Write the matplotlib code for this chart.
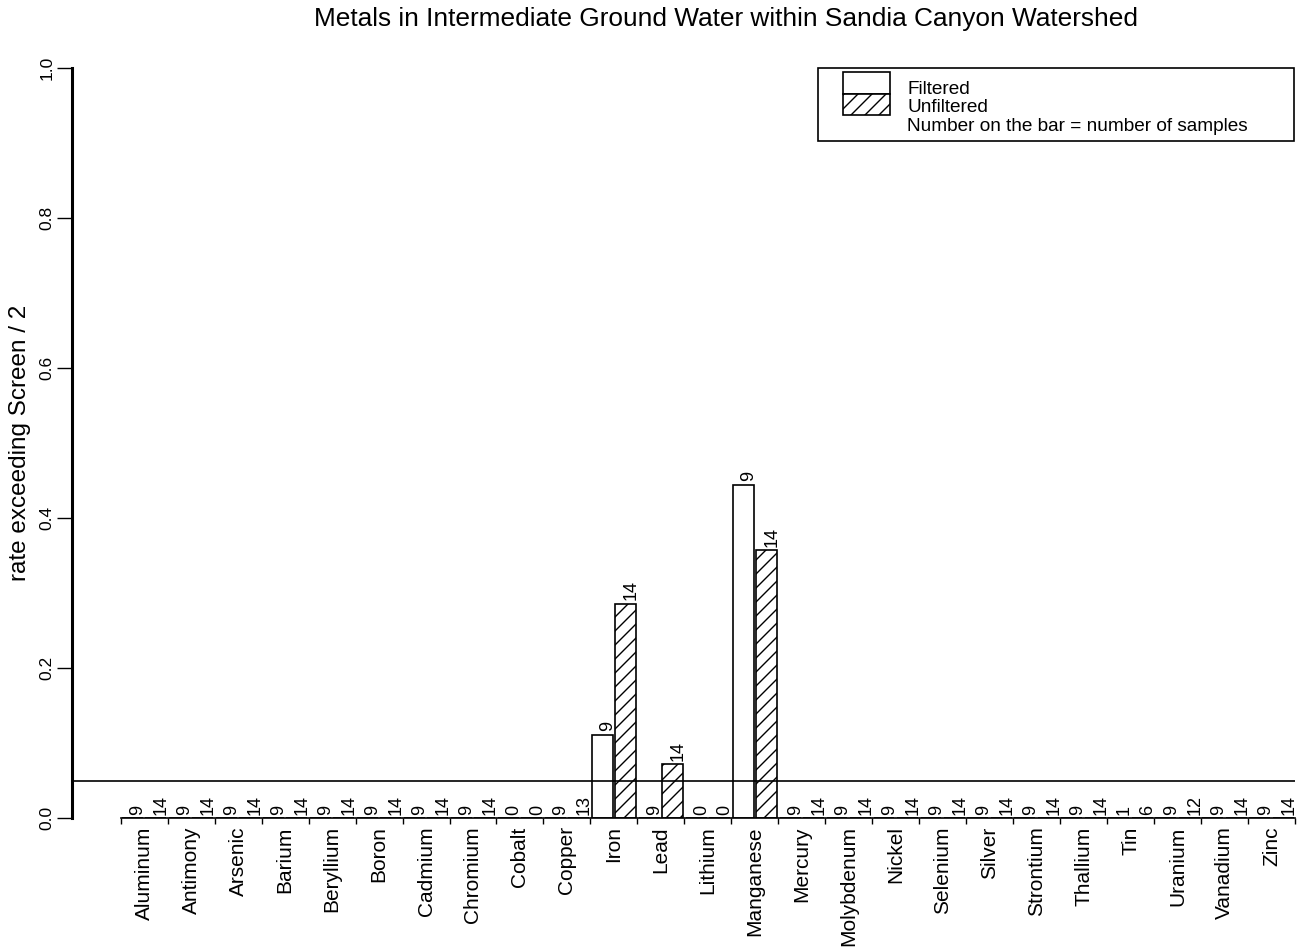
import matplotlib
matplotlib.use("Agg")
import matplotlib.pyplot as plt
from matplotlib.patches import Rectangle
import numpy as np

plt.rcParams['font.family'] = ['Liberation Sans', 'DejaVu Sans']

metals = ["Aluminum", "Antimony", "Arsenic", "Barium", "Beryllium", "Boron",
          "Cadmium", "Chromium", "Cobalt", "Copper", "Iron", "Lead", "Lithium",
          "Manganese", "Mercury", "Molybdenum", "Nickel", "Selenium", "Silver",
          "Strontium", "Thallium", "Tin", "Uranium", "Vanadium", "Zinc"]

# rate exceeding screen / 2
rate_filtered = [0, 0, 0, 0, 0, 0, 0, 0, 0, 0, 1/9, 0, 0, 4/9,
                 0, 0, 0, 0, 0, 0, 0, 0, 0, 0, 0]
rate_unfiltered = [0, 0, 0, 0, 0, 0, 0, 0, 0, 0, 4/14, 1/14, 0, 5/14,
                   0, 0, 0, 0, 0, 0, 0, 0, 0, 0, 0]

# number of samples
n_filtered = [9, 9, 9, 9, 9, 9, 9, 9, 0, 9, 9, 9, 0, 9,
              9, 9, 9, 9, 9, 9, 9, 1, 9, 9, 9]
n_unfiltered = [14, 14, 14, 14, 14, 14, 14, 14, 0, 13, 14, 14, 0, 14,
                14, 14, 14, 14, 14, 14, 14, 6, 12, 14, 14]

screen_line = 0.05
yticks = [0.0, 0.2, 0.4, 0.6, 0.8, 1.0]

# dpi picked so that the hatch spacing comes out like the original
DPI = 84
W, H = 1310, 951


def pt(v):
    # sizes given as if dpi were 100
    return v * 100 / DPI


fig = plt.figure(figsize=(W / DPI, H / DPI), dpi=DPI)
ax = fig.add_axes([72 / W, (H - 818) / H, (1295 - 72) / W, 750 / H])

ng = len(metals)
xf = np.arange(ng) * 2
xu = xf + 1
bw = 0.89

plt.rcParams['hatch.linewidth'] = pt(1.0)
ax.bar(xf, rate_filtered, width=bw, facecolor='white', edgecolor='black',
       linewidth=pt(1.2), zorder=2)
ax.bar(xu, rate_unfiltered, width=bw, facecolor='white', edgecolor='black',
       linewidth=pt(1.2), hatch='//', zorder=2)

for xs, vals, ns in [(xf, rate_filtered, n_filtered), (xu, rate_unfiltered, n_unfiltered)]:
    for x, v, n in zip(xs, vals, ns):
        ax.annotate(str(n), (x, v), xytext=(pt(4), pt(2.5)), textcoords='offset points',
                    rotation=90, ha='center', va='bottom', fontsize=pt(13))

ax.axhline(screen_line, color='black', linewidth=pt(1.2), zorder=3)

ax.set_xlim(-2.574, 49.468)
ax.set_ylim(0, 1)

for s in ['top', 'right']:
    ax.spines[s].set_visible(False)
ax.spines['left'].set_bounds(0, 1)
ax.spines['left'].set_linewidth(pt(2.2))
ax.spines['bottom'].set_bounds(-0.5, 2 * ng - 0.5)
ax.spines['bottom'].set_linewidth(pt(1.2))

ax.set_yticks(yticks)
ax.set_yticklabels([f"{t:.1f}" for t in yticks])
ax.tick_params(axis='y', length=pt(10.5), width=pt(1), labelsize=pt(12.5),
               pad=pt(2), labelrotation=90)
for lab in ax.get_yticklabels():
    lab.set_va('center')

ax.set_xticks(xf + 0.5)
ax.set_xticklabels(metals, rotation=90, fontsize=pt(15))
ax.set_xticks(np.arange(2 * ng + 1) - 0.5, minor=True)
ax.tick_params(axis='x', which='major', length=0, pad=pt(6))
ax.tick_params(axis='x', which='minor', length=pt(4), width=pt(1))

fig.text(20 / W, 1 - 443 / H, "rate exceeding Screen / 2", rotation=90,
         ha='center', va='center', fontsize=pt(17.5))
fig.text(726 / W, 1 - 19 / H,
         "Metals in Intermediate Ground Water within Sandia Canyon Watershed",
         ha='center', va='center', fontsize=pt(18.9))


# legend drawn like the R one
def fx(px):
    return px / W


def fy(py):
    return 1 - py / H


fig.add_artist(Rectangle((fx(818), fy(141)), fx(1294) - fx(818), fy(68) - fy(141),
                         transform=fig.transFigure, facecolor='white',
                         edgecolor='black', linewidth=pt(1.2)))
fig.add_artist(Rectangle((fx(843), fy(94)), fx(890) - fx(843), fy(72) - fy(94),
                         transform=fig.transFigure, facecolor='white',
                         edgecolor='black', linewidth=pt(1.2)))
fig.add_artist(Rectangle((fx(843), fy(115)), fx(890) - fx(843), fy(94) - fy(115),
                         transform=fig.transFigure, facecolor='white',
                         edgecolor='black', linewidth=pt(1.2), hatch='//'))
for ty, txt in zip([90, 108, 126], ["Filtered", "Unfiltered",
                                      "Number on the bar = number of samples"]):
    fig.text(fx(907), fy(ty), txt, ha='left', va='center', fontsize=pt(13.7))

fig.savefig("out.png", dpi=DPI)
